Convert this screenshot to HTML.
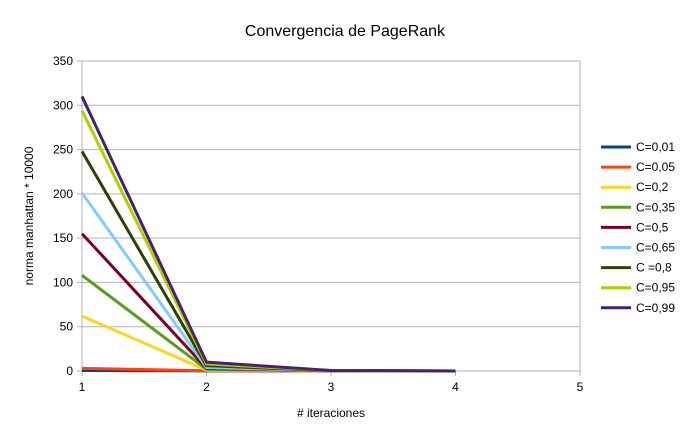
<!DOCTYPE html>
<html><head><meta charset="utf-8"><style>
body{margin:0;background:#fff;font-family:"Liberation Sans",sans-serif;}
</style></head><body>
<svg id="chart" width="690" height="442" style="display:block"></svg>
<script>
const iterations=[1,2,3,4];
const seriesNames=["C=0,01","C=0,05","C=0,2","C=0,35","C=0,5","C=0,65","C =0,8","C=0,95","C=0,99"];
const seriesColors=["#004586","#ff420e","#ffd320","#579d1c","#7e0021","#83caff","#314004","#aecf00","#4b1f6f"];
const s001=[0.6,0.1,0,0];
const s005=[3,0.3,0,0];
const s02=[62,1,0.1,0];
const s035=[108,2,0.2,0];
const s05=[155,3,0.2,0];
const s065=[201,4,0.3,0];
const s08=[248,6,0.4,0];
const s095=[294,8,0.5,0];
const s099=[310,10,0.6,0];
const seriesValues=[s001,s005,s02,s035,s05,s065,s08,s095,s099];
const yTicks=[0,50,100,150,200,250,300,350];
const xTicks=[1,2,3,4,5];
const NS="http://www.w3.org/2000/svg";
const svg=document.getElementById('chart');
const L=82,R=580,T=61,B=371;
const xs=v=>L+(v-1)*(R-L)/4;
const ys=v=>B-v*(B-T)/350;
function mk(tag,attrs,parent){const e=document.createElementNS(NS,tag);for(const k in attrs)e.setAttribute(k,attrs[k]);(parent||svg).appendChild(e);return e;}
let t=mk('text',{x:345,y:36,'text-anchor':'middle','font-size':16,fill:'#000'});t.textContent="Convergencia de PageRank";


yTicks.forEach(v=>{
 const g=mk('line',{x1:L,x2:R,y1:ys(v),y2:ys(v),stroke:'#b3b3b3','stroke-width':1});
 
 
 const tk=mk('line',{x1:L-5,x2:L,y1:ys(v),y2:ys(v),stroke:'#b3b3b3'});
 
 
 const lb=mk('text',{x:L-9,y:ys(v)+4,'text-anchor':'end','font-size':12,fill:'#000'});lb.textContent=v;
 
 
});
mk('line',{x1:L,x2:L,y1:T,y2:B,stroke:'#b3b3b3'});
mk('line',{x1:R,x2:R,y1:T,y2:B,stroke:'#b3b3b3'});
xTicks.forEach(v=>{
 const tk=mk('line',{x1:xs(v),x2:xs(v),y1:B,y2:B+5,stroke:'#b3b3b3'});
 
 
 const lb=mk('text',{x:xs(v),y:B+20,'text-anchor':'middle','font-size':12,fill:'#000'});lb.textContent=v;
 
 
});
t=mk('text',{x:331,y:417,'text-anchor':'middle','font-size':12});t.textContent="# iteraciones";


t=mk('text',{x:0,y:0,'text-anchor':'middle','font-size':12,transform:'translate(33,216) rotate(-90)'});t.textContent="norma manhattan * 10000";


seriesValues.forEach((vals,i)=>{
 const pts=vals.map((v,j)=>xs(iterations[j])+','+ys(v)).join(' ');
 const p=mk('polyline',{points:pts,fill:'none',stroke:seriesColors[i],'stroke-width':3,'stroke-linejoin':'round'});
 
 
 const ly=147+i*20.1;
 const ll=mk('line',{x1:601,x2:631,y1:ly,y2:ly,stroke:seriesColors[i],'stroke-width':3});
 
 
 const lt=mk('text',{x:636,y:ly+4,'font-size':12});lt.textContent=seriesNames[i];
 
 
});
</script>
</body></html>
